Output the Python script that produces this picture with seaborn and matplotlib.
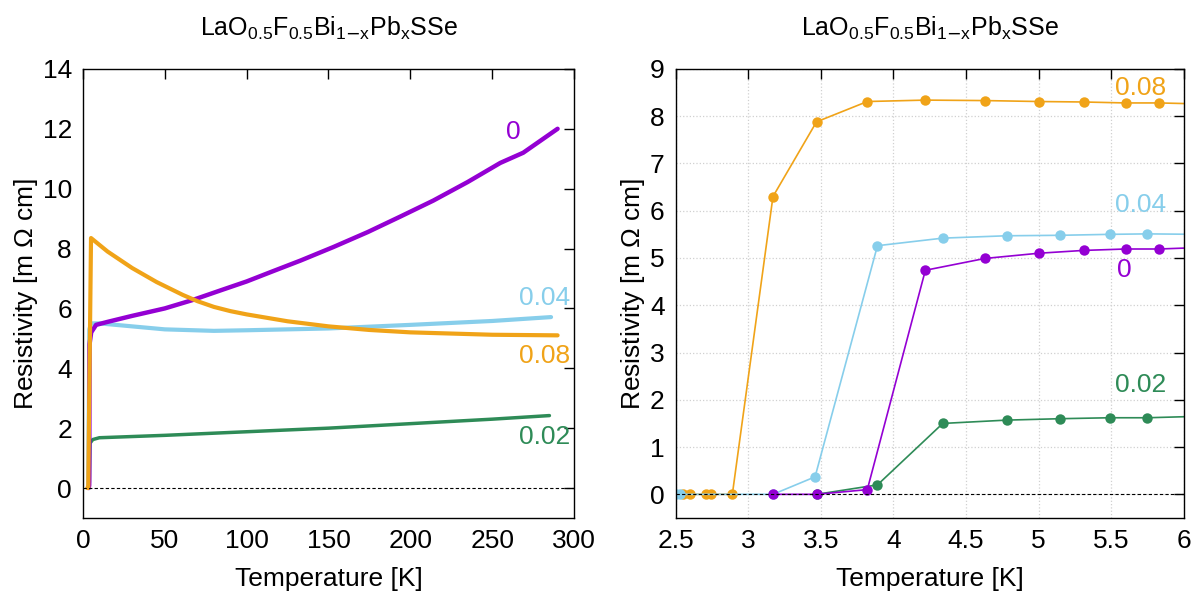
import numpy as np
import pandas as pd
import matplotlib
matplotlib.use('Agg')
import matplotlib.pyplot as plt
import seaborn as sns

# Datos del panel izquierdo (resistividad vs temperatura, 0-300 K)
T_x0 = [3.5, 3.8, 4.0, 5, 8, 15, 30, 50, 67, 85, 100, 115, 133, 153, 174, 194, 214, 235, 255, 269, 290]
R_x0 = [0, 0.1, 4.8, 5.2, 5.45, 5.55, 5.75, 6.0, 6.28, 6.62, 6.9, 7.22, 7.6, 8.05, 8.55, 9.07, 9.6, 10.22, 10.86, 11.2, 12.0]

T_x004 = [3.2, 3.9, 5, 10, 30, 50, 80, 100, 150, 200, 250, 286]
R_x004 = [0, 5.3, 5.5, 5.5, 5.4, 5.3, 5.25, 5.27, 5.33, 5.45, 5.58, 5.71]

T_x008 = [2.6, 2.9, 3.2, 4.9, 15, 30, 45, 61, 70, 80, 90, 100, 125, 150, 175, 200, 250, 290]
R_x008 = [0, 0, 0, 8.35, 7.9, 7.35, 6.88, 6.45, 6.24, 6.05, 5.91, 5.8, 5.57, 5.4, 5.28, 5.2, 5.12, 5.1]

T_x002 = [3.5, 3.9, 4.3, 6, 10, 50, 100, 150, 200, 250, 285]
R_x002 = [0, 0.2, 1.5, 1.62, 1.68, 1.76, 1.88, 2.0, 2.15, 2.3, 2.42]

# Datos del panel derecho (zoom en la transicion superconductora)
t_x008 = [2.55, 2.6, 2.71, 2.74, 2.89, 3.17, 3.47, 3.82, 4.22, 4.63, 5.0, 5.31, 5.6, 5.83, 6.1]
r_x008 = [0, 0, 0, 0, 0, 6.3, 7.88, 8.31, 8.34, 8.33, 8.31, 8.30, 8.28, 8.28, 8.26]

t_x004 = [2.5, 2.53, 3.17, 3.46, 3.89, 4.34, 4.78, 5.15, 5.49, 5.75, 6.1]
r_x004 = [0, 0, 0, 0.37, 5.26, 5.42, 5.47, 5.48, 5.50, 5.51, 5.50]

t_x0 = [3.17, 3.47, 3.82, 4.22, 4.63, 5.0, 5.31, 5.6, 5.83, 6.1]
r_x0 = [0, 0, 0.1, 4.74, 4.99, 5.10, 5.16, 5.19, 5.19, 5.22]

t_x002 = [3.47, 3.89, 4.34, 4.78, 5.15, 5.49, 5.75, 6.1]
r_x002 = [0, 0.2, 1.50, 1.57, 1.60, 1.62, 1.62, 1.65]

labels = ['0', '0.02', '0.04', '0.08']
colores = {'0': '#9400d3', '0.02': '#2e8b57', '0.04': '#87ceeb', '0.08': '#f0a318'}
titulo = r'LaO$_{0.5}$F$_{0.5}$Bi$_{1\mathrm{-}x}$Pb$_{x}$SSe'

sns.set_style('white')
plt.rcParams['font.family'] = ['Liberation Sans', 'DejaVu Sans']
plt.rcParams['mathtext.default'] = 'regular'
plt.rcParams['text.color'] = 'black'
plt.rcParams['axes.labelcolor'] = 'black'
plt.rcParams['xtick.color'] = 'black'
plt.rcParams['ytick.color'] = 'black'

fig = plt.figure(figsize=(11.96, 5.94), dpi=100)
ax1 = fig.add_axes([0.0694, 0.128, 0.4105, 0.756])
ax2 = fig.add_axes([0.565, 0.128, 0.4247, 0.756])

# Panel izquierdo
for T, R, lab, lw in [(T_x002, R_x002, '0.02', 2.5), (T_x004, R_x004, '0.04', 3.0),
                      (T_x0, R_x0, '0', 3.2), (T_x008, R_x008, '0.08', 3.0)]:
    sns.lineplot(x=T, y=R, ax=ax1, color=colores[lab], linewidth=lw,
                 estimator=None, sort=False)
ax1.axhline(0, color='black', linestyle='--', linewidth=0.8, dashes=(3, 2))
ax1.set_xlim(0, 300)
ax1.set_ylim(-1, 14)
ax1.set_xticks(range(0, 301, 50))
ax1.set_yticks(range(0, 15, 2))
ax1.text(263, 11.9, '0', color=colores['0'], fontsize=19, ha='center', va='center')
ax1.text(282, 6.35, '0.04', color=colores['0.04'], fontsize=19, ha='center', va='center')
ax1.text(282, 4.4, '0.08', color=colores['0.08'], fontsize=19, ha='center', va='center')
ax1.text(282, 1.7, '0.02', color=colores['0.02'], fontsize=19, ha='center', va='center')

# Panel derecho
for t, r, lab in [(t_x008, r_x008, '0.08'), (t_x004, r_x004, '0.04'),
                  (t_x002, r_x002, '0.02'), (t_x0, r_x0, '0')]:
    sns.lineplot(x=t, y=r, ax=ax2, color=colores[lab], linewidth=1.2,
                 marker='o', markersize=7.5, markeredgewidth=0,
                 estimator=None, sort=False)
ax2.axhline(0, color='black', linestyle='--', linewidth=0.8, dashes=(3, 2))
ax2.set_xlim(2.5, 6)
ax2.set_ylim(-0.5, 9)
ax2.set_xticks(np.arange(2.5, 6.01, 0.5))
ax2.set_xticklabels(['2.5', '3', '3.5', '4', '4.5', '5', '5.5', '6'])
ax2.set_yticks(range(0, 10))
ax2.grid(True, color='#d0d0d0', linestyle=':', linewidth=0.9)
ax2.text(5.70, 8.6, '0.08', color=colores['0.08'], fontsize=19, ha='center', va='center')
ax2.text(5.70, 6.12, '0.04', color=colores['0.04'], fontsize=19, ha='center', va='center')
ax2.text(5.59, 4.75, '0', color=colores['0'], fontsize=19, ha='center', va='center')
ax2.text(5.70, 2.31, '0.02', color=colores['0.02'], fontsize=19, ha='center', va='center')

for ax in (ax1, ax2):
    ax.set_title(titulo, fontsize=18, pad=24)
    ax.set_xlabel('Temperature [K]', fontsize=19, labelpad=10)
    ax.set_ylabel(r'Resistivity [m $\Omega$ cm]', fontsize=19, labelpad=2)
    ax.tick_params(direction='in', length=7, width=1, labelsize=19,
                   top=True, right=True, pad=8)
    for s in ax.spines.values():
        s.set_color('black')
        s.set_linewidth(1)

fig.savefig('out.png', dpi=100)
